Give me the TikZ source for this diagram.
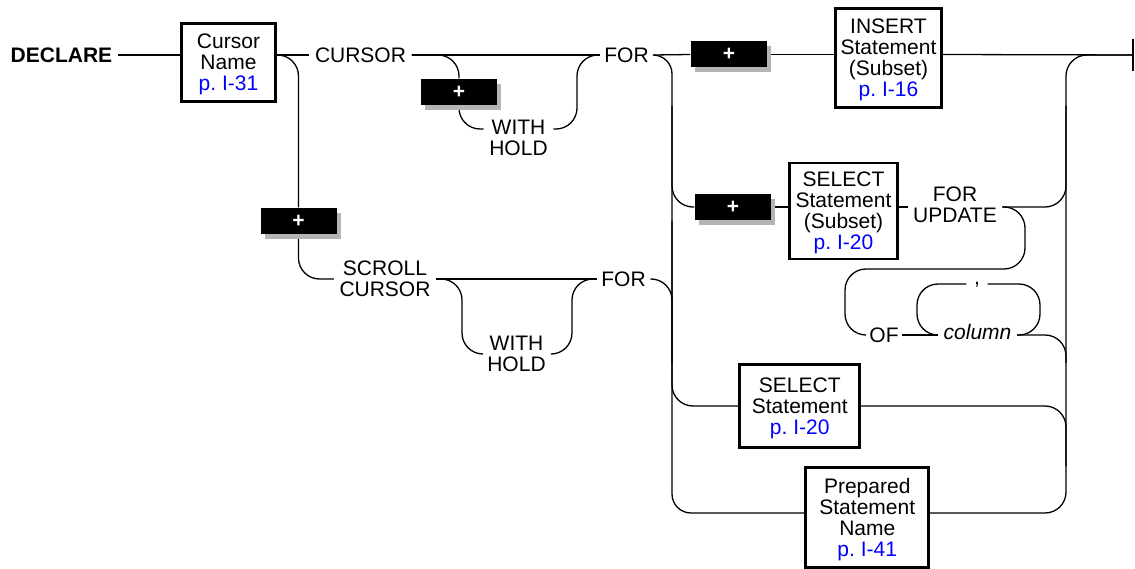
\documentclass[tikz,border=0pt]{standalone}
\usepackage{fontspec}
\setmainfont{Liberation Sans}
\usetikzlibrary{backgrounds,shadows}
\definecolor{refblue}{RGB}{0,0,255}
\definecolor{shadowgray}{RGB}{180,180,180}
\newcommand\diagfont{\fontsize{21}{21}\selectfont}
\newcommand\pref[1]{\textcolor{refblue}{\raisebox{0pt}[\height][0pt]{p.\ I-#1}}}
\begin{document}
\begin{tikzpicture}[x=1pt,y=-1pt,
  line width=1.3pt,
  track/.style={line width=1.3pt, draw=black},
  lbl/.style={inner xsep=5pt, inner ysep=0pt, text height=15pt, text depth=0pt, font=\diagfont},
  lbl2/.style={inner xsep=5pt, inner ysep=0pt, align=center, font=\diagfont},
  stmt/.style={draw, line width=2.6pt, fill=white, inner sep=0pt, align=center, font=\diagfont},
  plusbox/.style={fill=black, text=white, inner sep=0pt, minimum width=76pt, minimum height=26pt,
    font=\diagfont\bfseries,
    drop shadow={shadow xshift=4pt, shadow yshift=-5pt, fill=shadowgray, opacity=1}},
  rr/.style={rounded corners=21pt},
]
\useasboundingbox (0,0) rectangle (1135,569);

% keywords, statement boxes and product markers
\node[lbl, font=\diagfont\bfseries] (declare) at (61.5,55) {DECLARE};
\node[stmt, minimum width=94.5pt, minimum height=78.5pt] (cname) at (228.5,62.5) {Cursor\\Name\\\pref{31}};
\node[lbl] (cursor) at (360.5,55) {CURSOR};
\node[plusbox] (plusA) at (459,92) {+};
\node[lbl2] (withA) at (518.5,137.5) {WITH\\HOLD};
\node[lbl, inner xsep=4pt] (forA) at (626.5,55) {FOR};
\node[plusbox] (plusB) at (729,54.5) {+};
\node[stmt, minimum width=106.5pt, minimum height=99.5pt] (insert) at (888.5,58) {INSERT\\Statement\\(Subset)\\\pref{16}};
\node[plusbox] (plusC) at (298.5,221) {+};
\node[lbl2] (scroll) at (385,279) {SCROLL\\CURSOR};
\node[lbl2] (withB) at (516.5,354) {WITH\\HOLD};
\node[lbl, inner xsep=4pt] (forB) at (623.5,279) {FOR};
\node[plusbox] (plusD) at (733,207) {+};
\node[stmt, minimum width=108.5pt, minimum height=96pt] (selsub) at (843.5,211) {SELECT\\Statement\\(Subset)\\\pref{20}};
\node[lbl2] (forupd) at (955,204.5) {FOR\\UPDATE};
\node[lbl, inner xsep=3pt] (of) at (884,335) {OF};
\node[lbl, font=\diagfont\itshape, anchor=base] (column) at (977.5,339) {column};
\node[lbl, inner xsep=7pt, anchor=base] (comma) at (977,284.5) {,};
\node[stmt, minimum width=120pt, minimum height=83.5pt] (select) at (799.75,406) {SELECT\\Statement\\\pref{20}};
\node[stmt, minimum width=123pt, minimum height=99.5pt] (prep) at (867.25,517.5) {Prepared\\Statement\\Name\\\pref{41}};

% junction points of the tracks
\coordinate (endbar) at (1133,55);
\coordinate (trunk) at (672,513);
\coordinate (rail) at (1066,55);
\coordinate (withAline) at (0,129);
\coordinate (withAjoin) at (577,55);
\coordinate (withBdrop) at (462,354);
\coordinate (withBrise) at (572,279);
\coordinate (updloopR) at (1025,269);
\coordinate (updloopL) at (845,335);
\coordinate (looptop) at (0,284);
\coordinate (loopR) at (1040,284);
\coordinate (loopL) at (917,335);

\begin{scope}[on background layer={track}]
  % main track
  \draw[track] (declare.east) -- (declare.east -| cname.west);
  \draw[track] (cname.east |- cursor.west) -- (cursor.west);
  \draw[track] (cursor.east) -- (forA.west);
  \draw[track, rr] (cursor.east) -| (plusA.north);
  \draw[track, rr] (plusA.south) |- (withA.west |- withAline);
  \draw[track, rr] (withA.east |- withAline) -| (withAjoin) -- (forA.west);
  \draw[track] (forA.east) -- (plusB.west);
  \draw[track] (plusB.east) -- (plusB.east -| insert.west);
  \draw[track] (plusB.east -| insert.east) -- (endbar);
  \draw[track, line width=2.6pt] (endbar) ++(0,-16) -- ++(0,32);
  % scroll cursor branch
  \draw[track, rr] (cname.east |- cursor.west) -| (plusC.north);
  \draw[track, rr] (plusC.south) |- (scroll.west);
  \draw[track] (scroll.east) -- (forB.west);
  \draw[track, rr] (scroll.east) -| (withBdrop) -- (withB.west);
  \draw[track, rr] (withB.east) -| (withBrise) -- (forB.west);
  % fan-out after FOR
  \draw[track, rounded corners=19pt] (forA.east) -| (trunk) -- (trunk -| prep.west);
  \draw[track, rr] (forB.east) -| (trunk |- select.north);
  \draw[track, rr] (trunk |- plusA.south) |- (plusD.west);
  \draw[track] (plusD.east) -- (plusD.east -| selsub.west);
  \draw[track] (plusD.east -| selsub.east) -- (plusD.east -| forupd.west);
  \draw[track, rr] (plusD.east -| forupd.east) -| (rail |- plusA.south);
  \draw[track, rr] (plusD.east -| forupd.east) -| (updloopR) -| (updloopL) -- (of.west);
  \draw[track] (of.east) -- (of.east -| column.west);
  \draw[track, rr] (of.east -| column.east) -| (rail |- select.north);
  \draw[track, rr] (of.east -| column.east) -| (loopR) -- (comma.east |- looptop);
  \draw[track, rr] (comma.west |- looptop) -| (loopL) -- (of.east -| column.west);
  \draw[track, rr] (trunk |- plusD.south) |- (select.west);
  \draw[track, rr] (select.east) -| (rail |- prep.north);
  \draw[track, rr] (trunk -| prep.east) -| (rail) -- (endbar);
\end{scope}
\end{tikzpicture}
\end{document}
